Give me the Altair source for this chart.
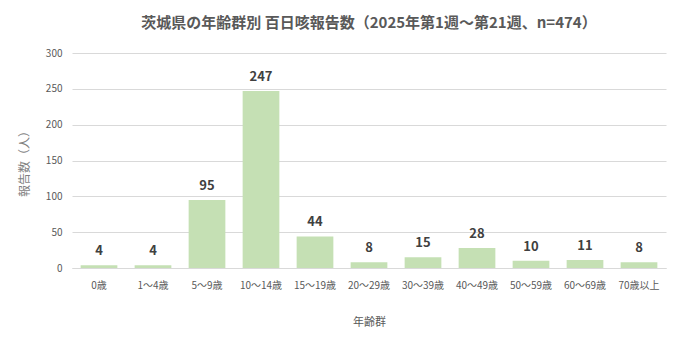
import altair as alt
import pandas as pd

categories = ["0歳", "1～4歳", "5～9歳", "10～14歳", "15～19歳", "20～29歳",
              "30～39歳", "40～49歳", "50～59歳", "60～69歳", "70歳以上"]
counts = [4, 4, 95, 247, 44, 8, 15, 28, 10, 11, 8]
y_ticks = [0, 50, 100, 150, 200, 250, 300]

df = pd.DataFrame({"age": categories, "count": counts})

FONT = "Noto Sans CJK JP"

base = alt.Chart(df).encode(
    x=alt.X("age:N", sort=categories, title="年齢群",
            scale=alt.Scale(paddingInner=0.32, paddingOuter=0.16),
            axis=alt.Axis(labelAngle=0, labelFontSize=10, labelColor="#595959",
                          labelFont=FONT, titleFont=FONT, titleFontSize=11,
                          titleColor="#595959", titleFontWeight="normal",
                          titlePadding=26, domainColor="#d9d9d9", ticks=False,
                          labelPadding=12)),
    y=alt.Y("count:Q", title="報告数（人）",
            scale=alt.Scale(domain=[0, 300]),
            axis=alt.Axis(values=y_ticks, labelOverlap=False, labelFontSize=10,
                          labelColor="#595959", labelFont=FONT, titleFont=FONT,
                          titleFontSize=12, titleColor="#7f7f7f",
                          titleFontWeight="normal", domain=False, ticks=False,
                          gridColor="#d9d9d9", labelPadding=10, titlePadding=14)),
)

bars = base.mark_bar(color="#c5e0b4")

labels = base.mark_text(dy=-14, fontSize=13, fontWeight="bold", color="#404040",
                        font=FONT).encode(
    text=alt.Text("count:Q"),
)

chart = (bars + labels).properties(
    width=594, height=215,
    padding={"left": 72, "top": 53, "right": 14, "bottom": 72},
    autosize=alt.AutoSizeParams(type="none"),
    background="white",
    title=alt.TitleParams(
        "茨城県の年齢群別 百日咳報告数（2025年第1週～第21週、n=474）",
        font=FONT, fontSize=15, fontWeight="bold", color="#595959",
        anchor="middle", offset=17,
    ),
).configure_view(stroke=None)

chart.save("out.html", embed_options={"renderer": "svg", "actions": False})
